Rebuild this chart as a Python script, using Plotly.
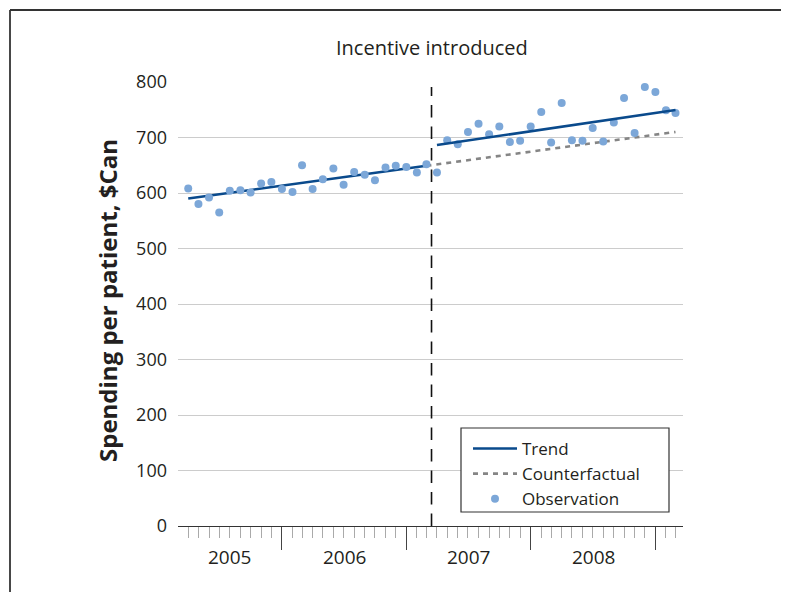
import pandas as pd
import plotly.graph_objects as go

# ---- data ----
months = pd.date_range("2005-04-01", periods=48, freq="MS")
spending = [608, 580, 592, 565, 604, 605, 601, 617, 620, 607, 602, 650,
            607, 625, 644, 615, 638, 633, 623, 646, 649, 647, 637, 652,
            637, 695, 688, 710, 725, 706, 720, 692, 694, 720, 746, 691,
            762, 695, 694, 717, 693, 727, 771, 708, 791, 782, 749, 744]

trend_pre_x = ["2005-04-01", "2007-03-01"]
trend_pre_y = [590, 649]
trend_post_x = ["2007-04-01", "2009-03-01"]
trend_post_y = [686.5, 749.5]
counter_x = ["2007-03-01", "2009-03-01"]
counter_y = [649, 710]

intervention = "2007-03-16"
years = [2005, 2006, 2007, 2008]
y_ticks = [0, 100, 200, 300, 400, 500, 600, 700, 800]

x_range = [pd.Timestamp("2005-03-02"), pd.Timestamp("2009-03-23")]

FONT = "Open Sans"
TXT = "#231f20"
BLUE = "#0a4a8c"
LIGHT = "#7ca7d8"
GREY = "#858585"

# page body has an 8px margin: work in reference pixels minus 8
OFF = 8
FW, FH = 789 - OFF, 592 - OFF
L, R, T, B = 178 - OFF, 683 - OFF, 82 - OFF, 526 - OFF
W, H = R - L, B - T


def px(x):
    return (x - OFF - L) / W


def py(y):
    return (B - (y - OFF)) / H


fig = go.Figure()
fig.add_trace(go.Scatter(x=trend_pre_x, y=trend_pre_y, mode="lines", name="Trend",
                         line=dict(color=BLUE, width=2.6)))
fig.add_trace(go.Scatter(x=counter_x, y=counter_y, mode="lines", name="Counterfactual",
                         line=dict(color=GREY, width=2.6, dash="5px,5px")))
fig.add_trace(go.Scatter(x=months, y=spending, mode="markers", name="Observation",
                         marker=dict(color=LIGHT, size=8)))
fig.add_trace(go.Scatter(x=trend_post_x, y=trend_post_y, mode="lines", name="Trend",
                         line=dict(color=BLUE, width=2.6), showlegend=False))

# intervention line
fig.add_shape(type="line", xref="x", yref="y", x0=intervention, x1=intervention,
              y0=0, y1=791, line=dict(color="#111", width=1.6, dash="12.5px,9px"), layer="above")

# legend box
fig.add_shape(type="rect", xref="paper", yref="paper", x0=px(461), x1=px(669),
              y0=py(512), y1=py(428), fillcolor="white",
              line=dict(color="#333", width=1.2), layer="above")

# outer frame
fig.add_shape(type="line", xref="paper", yref="paper", x0=px(10), x1=px(10),
              y0=py(10), y1=py(620), line=dict(color="#333", width=1.8))
fig.add_shape(type="line", xref="paper", yref="paper", x0=px(10), x1=px(820),
              y0=py(10), y1=py(10), line=dict(color="#333", width=1.8))

# year labels
for yr in years:
    s = max(pd.Timestamp(f"{yr}-01-01"), x_range[0])
    e = min(pd.Timestamp(f"{yr+1}-01-01"), x_range[1])
    c = s + (e - s) / 2
    fig.add_annotation(x=c, y=py(557), xref="x", yref="paper", text=str(yr),
                       showarrow=False, font=dict(family=FONT, size=19, color=TXT),
                       xanchor="center", yanchor="middle")

fig.add_annotation(x=intervention, y=py(47), xref="x", yref="paper",
                   text="Incentive introduced", showarrow=False,
                   font=dict(family=FONT, size=20, color=TXT),
                   xanchor="center", yanchor="middle")

fig.add_annotation(x=px(107), y=py(301), xref="paper", yref="paper",
                   text="<b>Spending per patient, $Can</b>", textangle=-90,
                   showarrow=False, font=dict(family=FONT, size=24, color=TXT),
                   xanchor="center", yanchor="middle")

fig.update_layout(
    width=FW, height=FH,
    margin=dict(l=L, r=FW - R, t=T, b=FH - B),
    paper_bgcolor="white", plot_bgcolor="white",
    font=dict(family=FONT, size=16, color=TXT),
    showlegend=True,
    legend=dict(x=px(468), y=py(431), xanchor="left", yanchor="top",
                bgcolor="rgba(0,0,0,0)", borderwidth=0, tracegroupgap=0,
                font=dict(family=FONT, size=17, color=TXT), itemwidth=44),
    xaxis=dict(type="date", range=x_range, showgrid=False, zeroline=False,
               showline=True, linecolor="#333", linewidth=1.3,
               tickvals=[f"{y}-01-01" for y in years[1:]] + ["2009-01-01"],
               ticks="outside", ticklen=23, tickcolor="#444", tickwidth=1,
               showticklabels=False,
               minor=dict(dtick="M1", tick0="2005-01-01", ticks="outside",
                          ticklen=11, tickcolor="#aaa", tickwidth=1, showgrid=False)),
    yaxis=dict(range=[0, 800], tickvals=y_ticks, showgrid=True, gridcolor="#cccccc",
               gridwidth=1, zeroline=False, showline=False, ticks="",
               ticklabelstandoff=10,
               tickfont=dict(family=FONT, size=18, color=TXT)),
)

fig.write_html("out.html")
